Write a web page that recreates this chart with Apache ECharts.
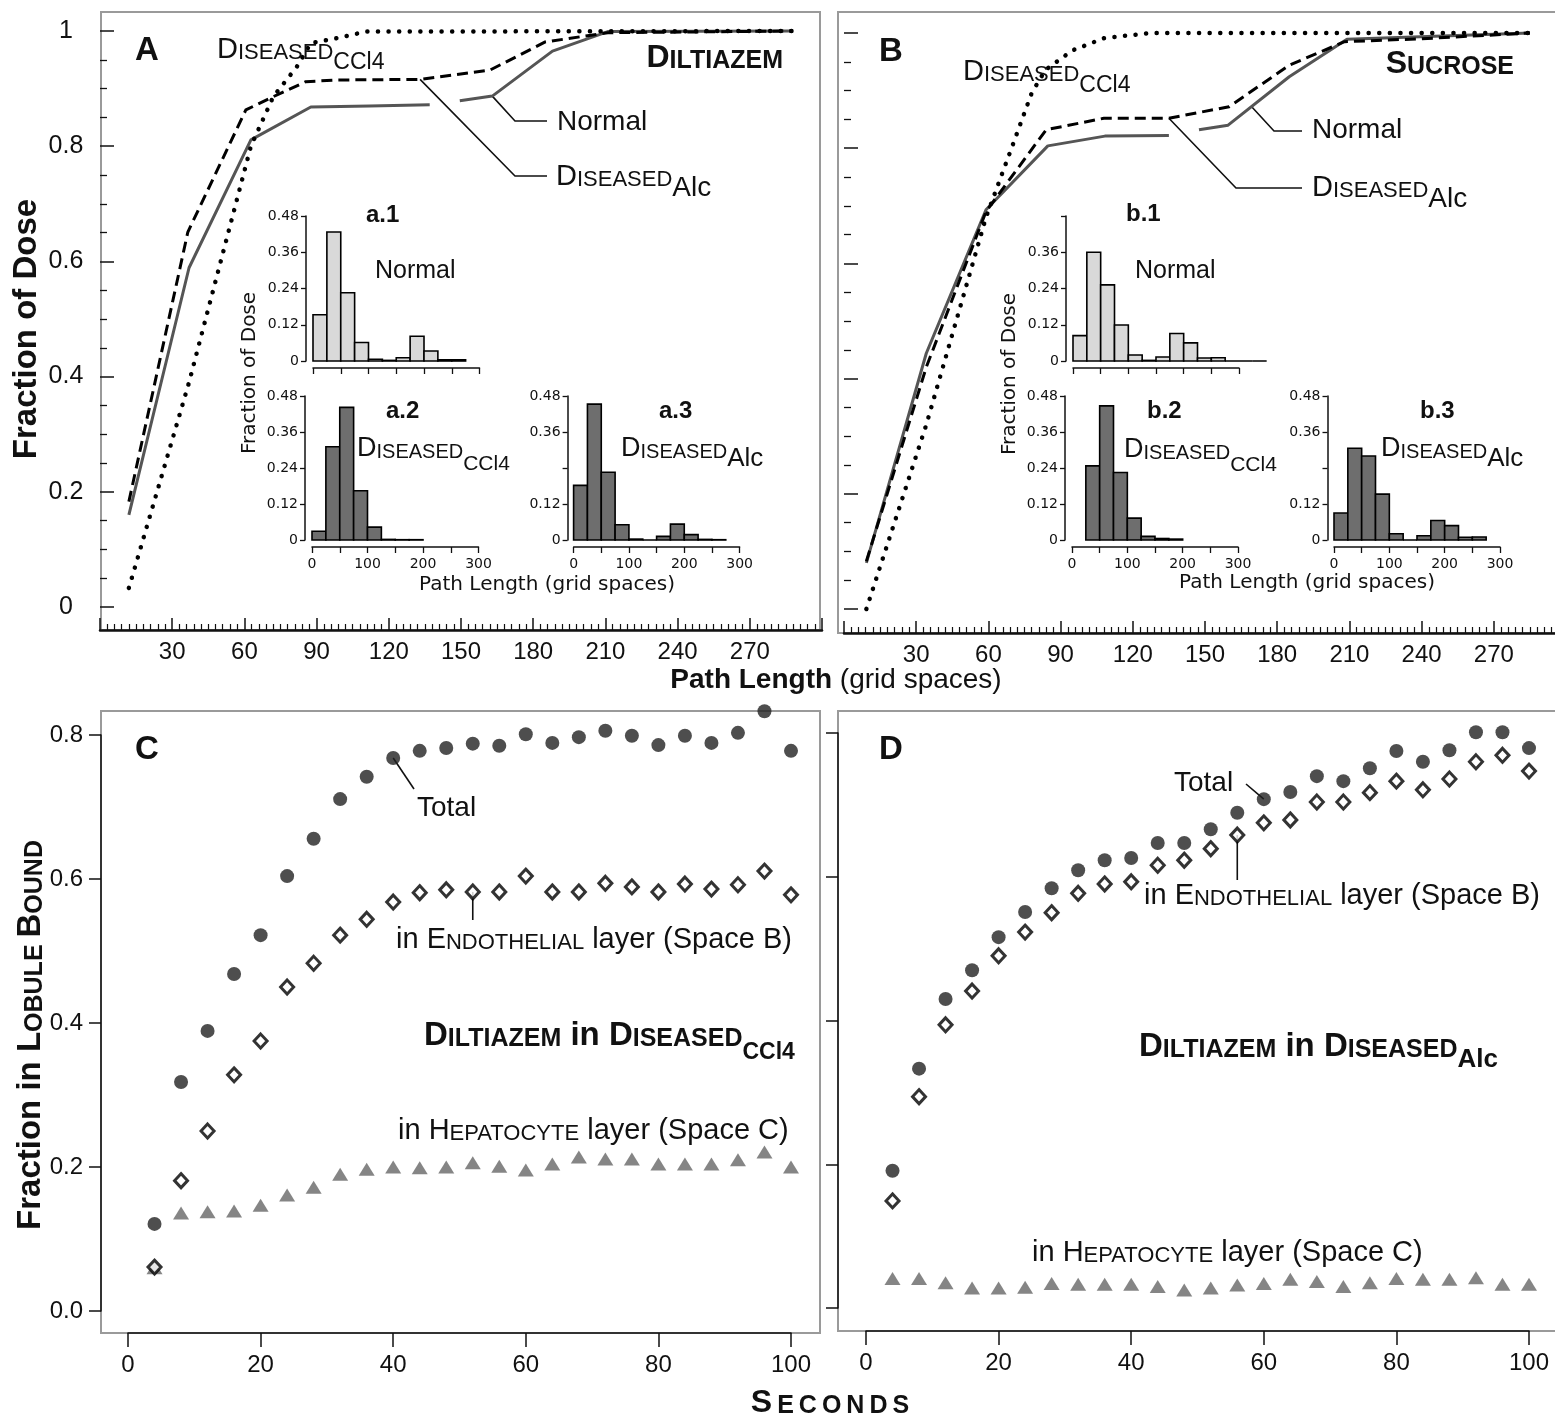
<!DOCTYPE html>
<html><head><meta charset="utf-8">
<script src="https://cdn.jsdelivr.net/npm/echarts@6/dist/echarts.min.js"></script>
<style>html,body{margin:0;padding:0;background:#fff}#c{width:1555px;height:1421px}</style>
</head><body><div id="c"></div>
<script>
// ---------- data ----------
// Panel A (Diltiazem): cumulative fraction of dose vs path length
const aNormalX = [12, 37, 62.7, 87.6, 112, 137, 143, 149.5, 163, 188, 211, 288];
const aNormalY = [0.16, 0.589, 0.811, 0.868, 0.870, 0.872, null, 0.879, 0.887, 0.965, 0.999, 1.0];
const aAlcX = [12, 36.5, 60.6, 72, 85.5, 99, 133, 162, 185, 211, 288];
const aAlcY = [0.183, 0.651, 0.863, 0.886, 0.912, 0.915, 0.916, 0.932, 0.981, 0.997, 1.0];
const aCCl4X = [12, 37, 62.7, 72, 81.8, 87.6, 99, 110.5, 288];
const aCCl4Y = [0.033, 0.39, 0.80, 0.886, 0.938, 0.979, 0.988, 0.999, 1.0];
// Panel B (Sucrose)
const bNormalX = [9.3, 34.2, 59, 84.7, 108.4, 135, 141, 147.5, 159.6, 185, 209, 285];
const bNormalY = [0.08, 0.444, 0.693, 0.804, 0.821, 0.822, null, 0.832, 0.84, 0.924, 0.989, 1.0];
const bAlcX = [9.3, 34.2, 59, 84, 108, 135, 160, 185, 208, 240, 285];
const bAlcY = [0.083, 0.42, 0.69, 0.832, 0.852, 0.852, 0.872, 0.944, 0.985, 0.99, 1.0];
const bCCl4X = [9.3, 34.2, 59, 70.4, 78, 83.7, 95, 108, 127.5, 285];
const bCCl4Y = [0.0, 0.32, 0.68, 0.809, 0.896, 0.936, 0.97, 0.991, 1.0, 1.0];
// Inset histograms (bin edges, fraction of dose)
const binEdges = [0, 25, 50, 75, 100, 125, 150, 175, 200, 225, 250, 275, 300, 325, 350];
const histA1 = [0.153, 0.427, 0.226, 0.061, 0.006, 0.002, 0.011, 0.082, 0.033, 0.004, 0.004];
const histA2 = [0.029, 0.311, 0.442, 0.164, 0.043, 0.002, 0.001, 0.001];
const histA3 = [0.182, 0.453, 0.226, 0.051, 0.003, 0, 0.012, 0.053, 0.018, 0.002, 0.001];
const histB1 = [0.084, 0.36, 0.252, 0.119, 0.02, 0.002, 0.013, 0.091, 0.06, 0.01, 0.011, 0, 0, 0];
const histB2 = [null, 0.247, 0.447, 0.225, 0.073, 0.012, 0.005, 0.003];
const histB3 = [0.09, 0.306, 0.28, 0.153, 0.021, 0, 0.014, 0.065, 0.048, 0.009, 0.01];
// Panels C, D: fraction in lobule bound vs seconds
const seconds = [4, 8, 12, 16, 20, 24, 28, 32, 36, 40, 44, 48, 52, 56, 60, 64, 68, 72, 76, 80, 84, 88, 92, 96, 100];
const cTotal = [0.121, 0.318, 0.389, 0.468, 0.522, 0.604, 0.656, 0.711, 0.742, 0.768, 0.778, 0.782, 0.788, 0.785, 0.801, 0.789, 0.797, 0.806, 0.799, 0.786, 0.799, 0.789, 0.803, 0.833, 0.778];
const cEndo = [0.061, 0.181, 0.25, 0.328, 0.375, 0.45, 0.483, 0.522, 0.544, 0.568, 0.581, 0.585, 0.582, 0.582, 0.604, 0.582, 0.582, 0.594, 0.589, 0.582, 0.593, 0.586, 0.592, 0.611, 0.578];
const cHep = [0.06, 0.136, 0.138, 0.139, 0.147, 0.161, 0.172, 0.19, 0.197, 0.2, 0.199, 0.2, 0.206, 0.201, 0.196, 0.204, 0.214, 0.211, 0.211, 0.204, 0.204, 0.204, 0.21, 0.221, 0.2];
const dTotal = [0.191, 0.333, 0.43, 0.47, 0.516, 0.551, 0.584, 0.609, 0.623, 0.626, 0.647, 0.647, 0.666, 0.689, 0.708, 0.718, 0.74, 0.733, 0.751, 0.775, 0.76, 0.776, 0.801, 0.801, 0.779];
const dEndo = [0.149, 0.294, 0.394, 0.441, 0.49, 0.523, 0.55, 0.577, 0.59, 0.593, 0.616, 0.623, 0.639, 0.658, 0.675, 0.679, 0.704, 0.704, 0.717, 0.733, 0.721, 0.736, 0.76, 0.769, 0.747];
const dHep = [0.041, 0.041, 0.035, 0.028, 0.028, 0.029, 0.034, 0.033, 0.033, 0.033, 0.030, 0.025, 0.028, 0.032, 0.034, 0.040, 0.037, 0.030, 0.035, 0.041, 0.040, 0.040, 0.042, 0.033, 0.033];

// ---------- helpers ----------
const SANS = "'Liberation Sans', Arial, Helvetica, sans-serif";
const DJ = "'DejaVu Sans', Verdana, sans-serif";
const INK = '#111';
const pairs = (xs, ys) => xs.map((x, i) => [x, ys[i]]);

function mainX(g, off) {
  return { gridIndex: g, type: 'value', min: 0, max: 300, interval: 30, offset: off,
    axisLine: { show: true, onZero: false, lineStyle: { color: INK, width: 2.5 } },
    axisTick: { show: true, inside: true, length: 12, lineStyle: { color: INK, width: 1.5 } },
    minorTick: { show: true, splitNumber: 10, length: 6, lineStyle: { color: INK, width: 1.2 } },
    axisLabel: { show: true, margin: 10, fontSize: 24, fontFamily: SANS, color: INK,
      formatter: v => (v === 0 || v === 300) ? '' : String(v) },
    splitLine: { show: false }, minorSplitLine: { show: false } };
}
function mainY(g, showLab) {
  return { gridIndex: g, type: 'value', min: 0, max: 1, interval: 0.2,
    axisLine: { show: false, onZero: false },
    axisTick: { show: true, inside: true, length: 14, lineStyle: { color: INK, width: 1.5 } },
    minorTick: { show: true, splitNumber: 4, length: 7, lineStyle: { color: INK, width: 1.3 } },
    axisLabel: { show: showLab, margin: 34, align: 'center', fontSize: 25, fontFamily: SANS, color: INK,
      formatter: v => v === 0 ? '0' : (v === 1 ? '1' : v.toFixed(1)) },
    splitLine: { show: false }, minorSplitLine: { show: false } };
}
function scatX(g, off) {
  return { gridIndex: g, type: 'value', min: 0, max: 100, interval: 20, offset: off,
    axisLine: { show: true, onZero: false, lineStyle: { color: INK, width: 1.5 } },
    axisTick: { show: true, inside: false, length: 14, lineStyle: { color: INK, width: 1.5 } },
    axisLabel: { show: true, margin: 20, fontSize: 24, fontFamily: SANS, color: INK },
    splitLine: { show: false } };
}
function scatY(g, off, showLab) {
  return { gridIndex: g, type: 'value', min: 0, max: 0.8, interval: 0.2, offset: off,
    axisLine: { show: true, onZero: false, lineStyle: { color: INK, width: 1.5 } },
    axisTick: { show: true, inside: false, length: 12, lineStyle: { color: INK, width: 1.5 } },
    axisLabel: { show: showLab, margin: 18, fontSize: 24, fontFamily: SANS, color: INK,
      formatter: v => v.toFixed(1) },
    splitLine: { show: false } };
}
function insetX(g, showLab) {
  return { gridIndex: g, type: 'value', min: 0, max: 300, interval: 50, offset: 7,
    axisLine: { show: true, onZero: false, lineStyle: { color: INK, width: 1.5 } },
    axisTick: { show: true, inside: false, length: 6, lineStyle: { color: INK, width: 1.3 } },
    axisLabel: { show: showLab, margin: 10, fontSize: 14, fontFamily: DJ, color: INK,
      formatter: v => (v % 100 === 0) ? String(v) : '' },
    splitLine: { show: false } };
}
function insetY(g, off, hide) {
  return { gridIndex: g, type: 'value', min: 0, max: 0.48, interval: 0.12, offset: off,
    axisLine: { show: true, onZero: false, lineStyle: { color: INK, width: 1.5 } },
    axisTick: { show: true, inside: false, length: 5, lineStyle: { color: INK, width: 1.3 } },
    axisLabel: { show: true, margin: 7, fontSize: 14, fontFamily: DJ, color: INK,
      formatter: v => { const s = v === 0 ? '0' : v.toFixed(2); return hide.indexOf(s) >= 0 ? '' : s; } },
    splitLine: { show: false } };
}
function histSeries(g, heights, color) {
  const data = [];
  heights.forEach((h, i) => { if (h !== null) data.push([binEdges[i], binEdges[i + 1], h]); });
  return { type: 'custom', xAxisIndex: g, yAxisIndex: g, data: data, encode: { x: [0, 1], y: 2 },
    clip: false, silent: true, z: 5,
    renderItem: function (params, api) {
      const p0 = api.coord([api.value(0), api.value(2)]);
      const p1 = api.coord([api.value(1), 0]);
      return { type: 'rect', shape: { x: p0[0], y: p0[1], width: p1[0] - p0[0], height: p1[1] - p0[1] },
        style: { fill: color, stroke: '#000', lineWidth: 1.6 } };
    } };
}
function lineSer(g, xs, ys, kind) {
  const ls = kind === 'solid' ? { color: '#555', width: 3 }
    : kind === 'dash' ? { color: '#000', width: 3, type: [11, 6] }
    : { color: '#000', width: 4.5, type: [0.1, 10.5], cap: 'round' };
  ls.join = 'round';
  return { type: 'line', xAxisIndex: g, yAxisIndex: g, data: pairs(xs, ys), symbol: 'none',
    showSymbol: false, connectNulls: false, clip: false, lineStyle: ls, z: 3, silent: true };
}
function scatSer(g, ys, kind) {
  const base = { type: 'scatter', xAxisIndex: g, yAxisIndex: g, data: pairs(seconds, ys), silent: true, z: 4, clip: false };
  if (kind === 'tri') return Object.assign(base, { symbol: 'triangle', symbolSize: [16, 13], itemStyle: { color: '#666' } });
  if (kind === 'dia') return Object.assign(base, { symbol: 'diamond', symbolSize: [13, 14], itemStyle: { color: '#fff', borderColor: '#000', borderWidth: 3 } });
  return Object.assign(base, { symbol: 'circle', symbolSize: 14, itemStyle: { color: '#222' } });
}

const grids = [
  { left: 100, top: 31, width: 722, height: 576 },
  { left: 844, top: 33, width: 722, height: 576 },
  { left: 128, top: 735, width: 663, height: 576 },
  { left: 866, top: 733, width: 663, height: 575 },
  { left: 313, top: 216, width: 166.5, height: 145 },
  { left: 312, top: 396, width: 166.5, height: 144 },
  { left: 573.6, top: 396, width: 166, height: 144 },
  { left: 1073, top: 216, width: 166, height: 145 },
  { left: 1072, top: 396, width: 166, height: 144 },
  { left: 1334, top: 396, width: 166, height: 144 }
].map(g => Object.assign(g, { outerBoundsMode: 'none', containLabel: false }));

const chart = echarts.init(document.getElementById('c'), null, { renderer: 'canvas' });
chart.setOption({
  animation: false,
  backgroundColor: '#fff',
  grid: grids,
  xAxis: [mainX(0, 23), mainX(1, 24), scatX(2, 22), scatX(3, 23),
    insetX(4, false), insetX(5, true), insetX(6, true), insetX(7, false), insetX(8, true), insetX(9, true)],
  yAxis: [mainY(0, true), mainY(1, false), scatY(2, 27, true), scatY(3, 28, false),
    insetY(4, 7, []), insetY(5, 7, []), insetY(6, 6, ['0.24']), insetY(7, 7, ['0.48']), insetY(8, 7, []), insetY(9, 6.5, ['0.24'])],
  series: [
    lineSer(0, aNormalX, aNormalY, 'solid'), lineSer(0, aAlcX, aAlcY, 'dash'), lineSer(0, aCCl4X, aCCl4Y, 'dot'),
    lineSer(1, bNormalX, bNormalY, 'solid'), lineSer(1, bAlcX, bAlcY, 'dash'), lineSer(1, bCCl4X, bCCl4Y, 'dot'),
    scatSer(2, cHep, 'tri'), scatSer(2, cEndo, 'dia'), scatSer(2, cTotal, 'dot'),
    scatSer(3, dHep, 'tri'), scatSer(3, dEndo, 'dia'), scatSer(3, dTotal, 'dot'),
    histSeries(4, histA1, '#d9d9d9'), histSeries(5, histA2, '#6e6e6e'), histSeries(6, histA3, '#6e6e6e'),
    histSeries(7, histB1, '#d9d9d9'), histSeries(8, histB2, '#6e6e6e'), histSeries(9, histB3, '#6e6e6e')
  ]
});

// ---------- text annotations ----------
function richOf(parts, fam, drop) {
  const r = {}; let t = '';
  parts.forEach((p, i) => {
    const k = 'p' + i;
    r[k] = { fontSize: p[1], fontWeight: p[2] ? 'bold' : 'normal', fontFamily: fam, fill: INK,
      verticalAlign: 'bottom', padding: [0, 0, p[3] ? 0 : drop, 0] };
    t += '{' + k + '|' + p[0] + '}';
  });
  return { text: t, rich: r };
}
function label(x, base, parts, opt) {
  opt = opt || {};
  const drop = opt.drop || 0;
  const rr = richOf(parts, opt.fam || SANS, drop);
  return { type: 'text', x: x, y: base + drop + 0.15 * parts[0][1], z: 50, silent: true,
    style: { text: rr.text, rich: rr.rich, x: 0, y: 0, align: opt.align || 'left', verticalAlign: 'bottom', fill: INK } };
}
function vlabel(cx, cy, parts, fam) {
  const rr = richOf(parts, fam || SANS, 0);
  return { type: 'text', x: cx, y: cy, rotation: Math.PI / 2, z: 50, silent: true,
    style: { text: rr.text, rich: rr.rich, x: 0, y: 0, align: 'center', verticalAlign: 'middle', fill: INK } };
}
const sc = (w, big, small, b) => [[w[0], big, b], [w.slice(1), small, b]];
const endo = [['in ', 29], ['E', 29], ['NDOTHELIAL', 22], [' layer (Space B)', 29]];
const hepa = [['in ', 29], ['H', 29], ['EPATOCYTE', 22], [' layer (Space C)', 29]];

const frames = [[101, 12, 719, 618], [838, 12, 719, 621], [101, 711, 719, 622], [838, 711, 719, 620]]
  .map(f => ({ type: 'rect', z: 0, silent: true, shape: { x: f[0], y: f[1], width: f[2], height: f[3] },
    style: { fill: null, stroke: '#9a9a9a', lineWidth: 2 } }));

const texts = [
  label(147, 62, [['A', 33, 1]], { align: 'center' }),
  label(217, 60, [...sc('DISEASED', 29, 22), ['CCl4', 23, 0, 1]], { drop: 10 }),
  label(783, 69, sc('DILTIAZEM', 32, 25, 1), { align: 'right' }),
  label(557, 132, [['Normal', 28]]),
  label(556, 187, [...sc('DISEASED', 29, 22), ['Alc', 28, 0, 1]], { drop: 11 }),
  label(891, 63, [['B', 33, 1]], { align: 'center' }),
  label(963, 82, [...sc('DISEASED', 29, 22), ['CCl4', 23, 0, 1]], { drop: 11 }),
  label(1514, 75, sc('SUCROSE', 32, 25, 1), { align: 'right' }),
  label(1312, 140, [['Normal', 28]]),
  label(1312, 198, [...sc('DISEASED', 29, 22), ['Alc', 28, 0, 1]], { drop: 11 }),

  label(366, 224, [['a.1', 24, 1]]),
  label(375, 280, [['Normal', 25]]),
  label(386, 420, [['a.2', 24, 1]]),
  label(357, 458, [...sc('DISEASED', 27, 20), ['CCl4', 21, 0, 1]], { drop: 13 }),
  label(659, 420, [['a.3', 24, 1]]),
  label(621, 458, [...sc('DISEASED', 27, 20), ['Alc', 26, 0, 1]], { drop: 10 }),
  vlabel(250, 373, [['Fraction of Dose', 20]], DJ),
  label(547, 592, [['Path Length (grid spaces)', 20]], { align: 'center', fam: DJ }),
  label(1126, 223, [['b.1', 24, 1]]),
  label(1135, 280, [['Normal', 25]]),
  label(1147, 420, [['b.2', 24, 1]]),
  label(1124, 459, [...sc('DISEASED', 27, 20), ['CCl4', 21, 0, 1]], { drop: 13 }),
  label(1420, 420, [['b.3', 24, 1]]),
  label(1381, 458, [...sc('DISEASED', 27, 20), ['Alc', 26, 0, 1]], { drop: 10 }),
  vlabel(1010, 374, [['Fraction of Dose', 20]], DJ),
  label(1307, 590, [['Path Length (grid spaces)', 20]], { align: 'center', fam: DJ }),

  vlabel(27, 329, [['Fraction of Dose', 33, 1]]),
  label(836, 690, [['Path Length', 28, 1], [' (grid spaces)', 28]], { align: 'center' }),
  vlabel(31, 1035, [['Fraction in ', 33, 1], ['L', 33, 1], ['OBULE ', 25, 1], ['B', 33, 1], ['OUND', 25, 1]]),
  label(830, 1414, [['S', 32, 1], ['\u2009E\u2009C\u2009O\u2009N\u2009D\u2009S', 25, 1]], { align: 'center' }),

  label(147, 761, [['C', 33, 1]], { align: 'center' }),
  label(417, 818, [['Total', 28]]),
  label(396, 950, endo),
  label(424, 1047, [...sc('DILTIAZEM', 33, 25, 1), [' in ', 33, 1], ...sc('DISEASED', 33, 25, 1), ['CCl4', 23, 1, 1]], { drop: 12 }),
  label(398, 1141, hepa),
  label(891, 761, [['D', 33, 1]], { align: 'center' }),
  label(1174, 793, [['Total', 28]]),
  label(1144, 906, endo),
  label(1139, 1058, [...sc('DILTIAZEM', 33, 25, 1), [' in ', 33, 1], ...sc('DISEASED', 33, 25, 1), ['Alc', 26, 1, 1]], { drop: 10 }),
  label(1032, 1263, hepa)
];

// leader lines anchored on data points
const P = (g, x, y) => chart.convertToPixel({ gridIndex: g }, [x, y]);
const cA = P(2, seconds[12], cEndo[12]);
const dA = P(3, seconds[13], dEndo[13]);
const leaders = [
  [P(0, aNormalX[8], aNormalY[8]), [515, 121], [547, 121]],
  [P(0, aAlcX[6], aAlcY[6]), [515, 176], [547, 176]],
  [P(1, 169.4, 0.872), [1274, 131], [1302, 131]],
  [P(1, bAlcX[5], bAlcY[5]), [1236, 188], [1302, 188]],
  [P(2, seconds[9], cTotal[9]), [414, 789]],
  [cA, [cA[0], 920]],
  [P(3, seconds[14], dTotal[14]), [1246, 784]],
  [dA, [dA[0], 880]]
].map(pts => ({ type: 'polyline', z: 1, silent: true, shape: { points: pts },
  style: { stroke: INK, lineWidth: 1.6, fill: null } }));

chart.setOption({ graphic: { elements: frames.concat(leaders, texts) } });
</script></body></html>
